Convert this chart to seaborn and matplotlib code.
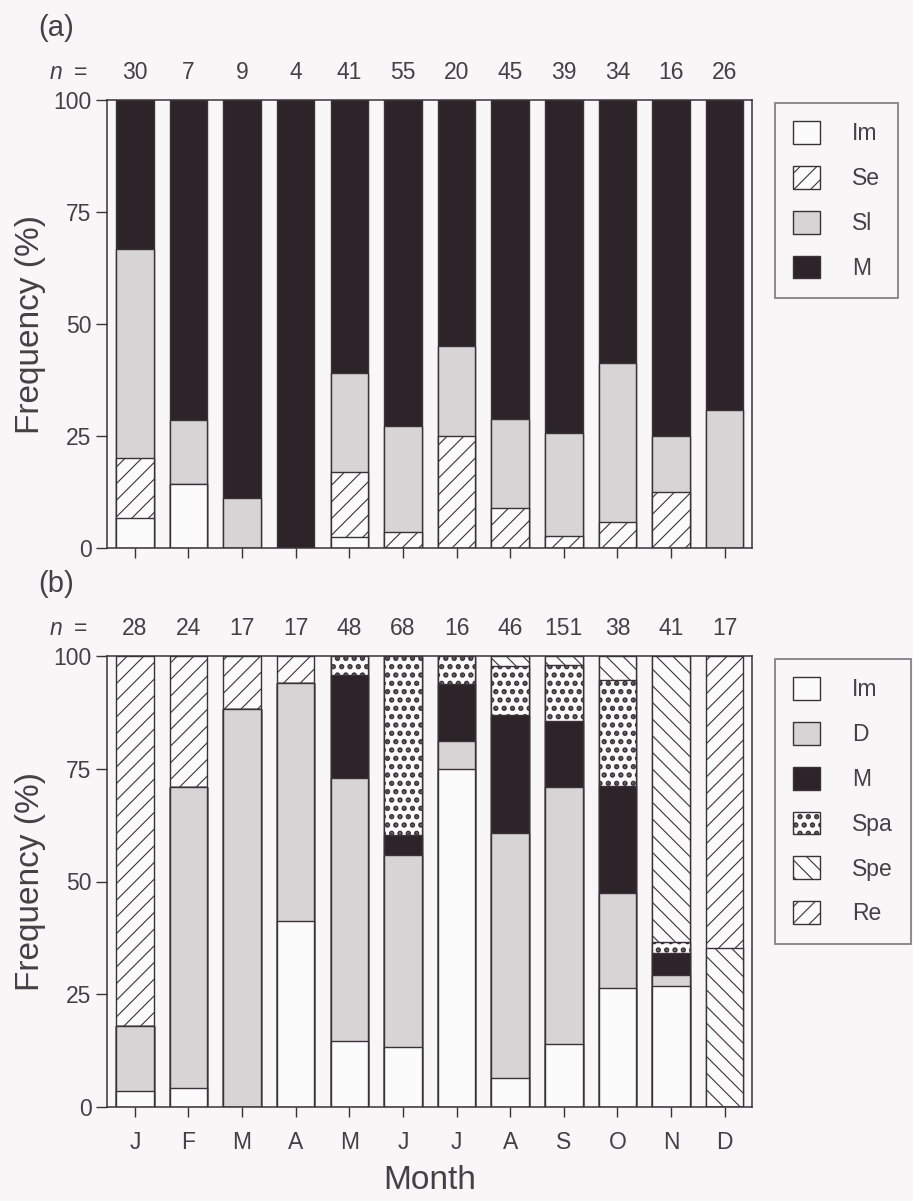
import numpy as np
import matplotlib
matplotlib.use("Agg")
import matplotlib.pyplot as plt
import seaborn as sns
from matplotlib.patches import Patch
from matplotlib.transforms import blended_transform_factory

# ---------------- data ----------------
months = ["J", "F", "M", "A", "M", "J", "J", "A", "S", "O", "N", "D"]

# (a) sample sizes and stage frequencies (%)
n_a = [30, 7, 9, 4, 41, 55, 20, 45, 39, 34, 16, 26]
a_im = [6.7, 14.3, 0, 0, 2.4, 0, 0, 0, 0, 0, 0, 0]
a_se = [13.3, 0, 0, 0, 14.6, 3.6, 25.0, 8.9, 2.6, 5.9, 12.5, 0]
a_sl = [46.7, 14.3, 11.1, 0, 22.0, 23.6, 20.0, 20.0, 23.1, 35.3, 12.5, 30.8]
a_m = [33.3, 71.4, 88.9, 100, 61.0, 72.8, 55.0, 71.1, 74.3, 58.8, 75.0, 69.2]

# (b) sample sizes and stage frequencies (%)
n_b = [28, 24, 17, 17, 48, 68, 16, 46, 151, 38, 41, 17]
b_im = [3.6, 4.2, 0, 41.2, 14.6, 13.2, 75.0, 6.5, 13.9, 26.3, 26.8, 0]
b_d = [14.3, 66.7, 88.2, 52.9, 58.3, 42.6, 6.2, 54.3, 57.0, 21.1, 2.4, 0]
b_m = [0, 0, 0, 0, 22.9, 4.4, 12.5, 26.1, 14.6, 23.7, 4.9, 0]
b_spa = [0, 0, 0, 0, 4.2, 39.8, 6.3, 10.9, 12.5, 23.6, 2.4, 0]
b_spe = [0, 0, 0, 0, 0, 0, 0, 2.2, 2.0, 5.3, 63.5, 35.3]
b_re = [82.1, 29.1, 11.8, 5.9, 0, 0, 0, 0, 0, 0, 0, 64.7]

labels_a = ["Im", "Se", "Sl", "M"]
labels_b = ["Im", "D", "M", "Spa", "Spe", "Re"]

# ---------------- style ----------------
sns.set_theme(style="ticks")
plt.rcParams["font.family"] = ["Liberation Sans", "DejaVu Sans"]
plt.rcParams["hatch.linewidth"] = 0.8

BG = "#f8f6f7"
EDGE = "#3a3236"
TXT = "#454045"
WHITE = "#fcfbfc"
GREY = "#d7d4d6"
DARK = "#2c2428"

styles = {
    "Im": dict(facecolor=WHITE, hatch=None, hlw=0.8),
    "Se": dict(facecolor=WHITE, hatch="//", hlw=0.8),
    "Re": dict(facecolor=WHITE, hatch="//", hlw=0.8),
    "Spe": dict(facecolor=WHITE, hatch="\\\\", hlw=0.8),
    "Sl": dict(facecolor=GREY, hatch=None, hlw=0.8),
    "D": dict(facecolor=GREY, hatch=None, hlw=0.8),
    "M": dict(facecolor=DARK, hatch=None, hlw=0.8),
    "Spa": dict(facecolor=WHITE, hatch="..", hlw=2.6),
}

SMALL = 16.5
BIG = 24

fig = plt.figure(figsize=(9.13, 12.01), dpi=100, facecolor=BG)
ax_a = fig.add_axes([107 / 913, 1 - 548 / 1201, 645 / 913, 448 / 1201])
ax_b = fig.add_axes([107 / 913, 1 - 1107 / 1201, 645 / 913, 451 / 1201])

pos = list(range(len(months)))


def set_hlw(patch, lw):
    if hasattr(patch, "set_hatch_linewidth"):
        patch.set_hatch_linewidth(lw)
    else:
        patch._hatch_linewidth = lw


def stacked(ax, layers, names):
    cum = np.cumsum(np.array(layers, dtype=float), axis=0)
    # paint from the tallest cumulative layer down so each segment shows
    for k in reversed(range(len(names))):
        st = styles[names[k]]
        before = len(ax.patches)
        sns.barplot(x=pos, y=cum[k], ax=ax, color=st["facecolor"],
                    saturation=1, width=0.7, errorbar=None,
                    edgecolor=EDGE, linewidth=1.0, hatch=st["hatch"])
        for p in ax.patches[before:]:
            set_hlw(p, st["hlw"])


def legend_handles(names):
    hs = []
    for nm in names:
        st = styles[nm]
        p = Patch(facecolor=st["facecolor"], edgecolor=EDGE,
                  hatch=st["hatch"], linewidth=1.0, label=nm)
        set_hlw(p, st["hlw"])
        hs.append(p)
    return hs


def dress(ax, n_vals, show_xlabels):
    ax.set_facecolor(BG)
    ax.set_xlim(-0.52, 11.51)
    ax.set_ylim(0, 100)
    ax.set_yticks([0, 25, 50, 75, 100])
    ax.set_yticklabels(["0", "25", "50", "75", "100"])
    ax.set_xticks(pos)
    if show_xlabels:
        ax.set_xticklabels(months)
    else:
        ax.set_xticklabels([])
    for s in ax.spines.values():
        s.set_visible(True)
        s.set_color(EDGE)
        s.set_linewidth(1.1)
    ax.tick_params(axis="y", direction="out", length=8, width=1.0,
                   color=EDGE, labelsize=SMALL, labelcolor=TXT, pad=3)
    ax.tick_params(axis="x", direction="out", length=7, width=1.0,
                   color=EDGE, labelsize=SMALL, labelcolor=TXT, pad=10)
    ax.set_ylabel("Frequency (%)", fontsize=BIG, color=TXT)
    ax.yaxis.set_label_coords(-0.095, 0.5)
    tr = blended_transform_factory(ax.transData, ax.transAxes)
    for i, n in enumerate(n_vals):
        ax.text(i, 1.062, str(n), transform=tr, ha="center", va="center",
                fontsize=SMALL, color=TXT)
    ax.text(-0.079, 1.062, "n", transform=ax.transAxes, ha="center",
            va="center", fontsize=SMALL, color=TXT, style="italic")
    ax.text(-0.041, 1.062, "=", transform=ax.transAxes, ha="center",
            va="center", fontsize=SMALL, color=TXT)


stacked(ax_a, [a_im, a_se, a_sl, a_m], labels_a)
stacked(ax_b, [b_im, b_d, b_m, b_spa, b_spe, b_re], labels_b)

dress(ax_a, n_a, False)
dress(ax_b, n_b, True)
ax_a.set_xlabel("")
ax_b.set_xlabel("Month", fontsize=BIG, color=TXT, labelpad=8)

for ax, names, top in [(ax_a, labels_a, 103), (ax_b, labels_b, 659)]:
    leg = fig.legend(handles=legend_handles(names), loc="upper left",
                     bbox_to_anchor=(775 / 913, 1 - top / 1201),
                     bbox_transform=fig.transFigure, frameon=True,
                     fancybox=False, fontsize=SMALL, labelcolor=TXT,
                     handlelength=1.15, handleheight=1.15,
                     handletextpad=1.4, labelspacing=0.9,
                     borderpad=0.8, borderaxespad=0)
    leg.get_frame().set_edgecolor("#6a6468")
    leg.get_frame().set_linewidth(1.3)
    leg.get_frame().set_facecolor(BG)
    for h, nm in zip(leg.legend_handles, names):
        set_hlw(h, styles[nm]["hlw"])

fig.text(38 / 913, 1 - 28 / 1201, "(a)", fontsize=21, color=TXT,
         ha="left", va="center")
fig.text(38 / 913, 1 - 584 / 1201, "(b)", fontsize=21, color=TXT,
         ha="left", va="center")

fig.savefig("out.png", dpi=100, facecolor=BG)
